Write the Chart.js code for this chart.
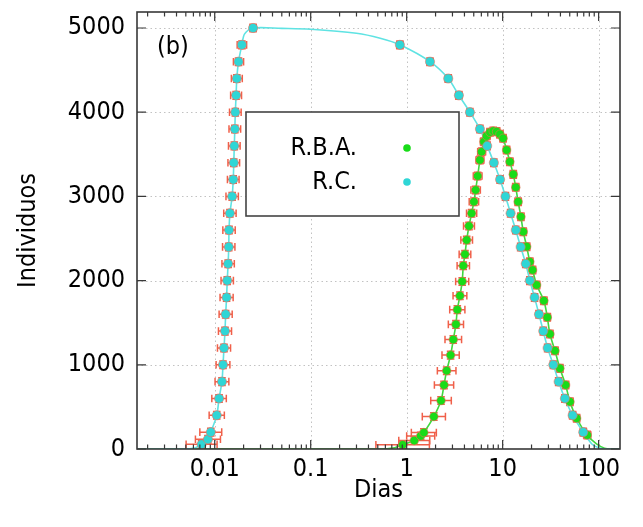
<!DOCTYPE html>
<html><head><meta charset="utf-8">
<script src="https://cdn.jsdelivr.net/npm/chart.js@4.4.1/dist/chart.umd.min.js"></script>
<style>html,body{margin:0;padding:0;background:#fff}#c{display:block}</style>
</head><body>
<canvas id="c" width="643" height="527"></canvas>
<script>
// ---------- data ----------
const xTickValues = [0.01, 0.1, 1, 10, 100];
const xTickLabels = ['0.01', '0.1', '1', '10', '100'];
const yTickValues = [0, 1000, 2000, 3000, 4000, 5000];
const seriesNames = ['R.B.A.', 'R.C.'];
const panelLabel = '(b)';
const xTitle = 'Dias';
const yTitle = 'Individuos';

// R.C. (cyan) points
const rcX = [0.0073, 0.0085, 0.0091, 0.0105, 0.0111, 0.0119, 0.0122, 0.0125, 0.0128, 0.0130, 0.0133, 0.0135, 0.0138, 0.0140, 0.0141, 0.0144, 0.0152, 0.0156, 0.0158, 0.0160, 0.0162, 0.0164, 0.0167, 0.0170, 0.0177, 0.0192, 0.0251,
  0.85, 1.75, 2.71, 3.5, 4.56, 5.8, 6.9, 8.1, 9.4, 10.7, 12.1, 13.7, 15.4, 17.4, 19.2, 21.5, 23.9, 26.5, 29.4, 33.7, 38.3, 44.5, 53.6, 69.2];
const rcY = [55, 115, 200, 400, 600, 800, 1000, 1200, 1400, 1600, 1800, 2000, 2200, 2400, 2600, 2800, 3000, 3200, 3400, 3600, 3800, 4000, 4200, 4400, 4600, 4800, 5000,
  4800, 4600, 4400, 4200, 4000, 3800, 3600, 3400, 3200, 3000, 2800, 2600, 2400, 2200, 2000, 1800, 1600, 1400, 1200, 1000, 800, 600, 400, 200];
// relative horizontal error (fraction of x)
const rcErr = [0.45, 0.35, 0.3, 0.2, 0.19, 0.18, 0.18, 0.17, 0.17, 0.17, 0.17, 0.16, 0.16, 0.16, 0.16, 0.16, 0.16, 0.15, 0.15, 0.15, 0.15, 0.15, 0.14, 0.14, 0.13, 0.12, 0.08,
  0.08, 0.08, 0.08, 0.08, 0.07, 0.07, 0.07, 0.07, 0.07, 0.07, 0.07, 0.07, 0.07, 0.07, 0.07, 0.07, 0.07, 0.07, 0.07, 0.07, 0.07, 0.07, 0.08, 0.08];

// R.B.A. (green) points
const rbaX = [0.908, 1.20, 1.40, 1.51, 1.92, 2.28, 2.45, 2.61, 2.87, 3.06, 3.26, 3.37, 3.59, 3.79, 3.89, 4.05, 4.22, 4.46, 4.75, 5.02, 5.23, 5.49, 5.80, 6.04, 6.39, 6.81, 7.38, 7.98, 8.66, 9.37,
  10.1, 11.0, 11.9, 12.9, 13.7, 14.5, 15.5, 16.4, 17.8, 19.2, 20.5, 22.6, 26.9, 29.2, 31.1, 35.1, 39.5, 45.3, 50.3, 59.0, 76.1];
const rbaY = [50, 100, 155, 195, 385, 575, 760, 930, 1115, 1300, 1480, 1655, 1820, 1990, 2177, 2312, 2482, 2648, 2799, 2937, 3076, 3242, 3432, 3531, 3650, 3717, 3761, 3777, 3769, 3738,
  3690, 3551, 3412, 3262, 3108, 2937, 2759, 2581, 2403, 2224, 2126, 1948, 1761, 1564, 1366, 1167, 958, 760, 562, 365, 166];
const rbaErr = [0.9, 0.45, 0.4, 0.35, 0.32, 0.28, 0.26, 0.25, 0.23, 0.22, 0.2, 0.2, 0.18, 0.17, 0.16, 0.15, 0.15, 0.14, 0.13, 0.12, 0.12, 0.11, 0.1, 0.1, 0.09, 0.09, 0.08, 0.08, 0.08, 0.08,
  0.08, 0.08, 0.08, 0.08, 0.08, 0.08, 0.08, 0.08, 0.08, 0.08, 0.08, 0.08, 0.08, 0.08, 0.08, 0.08, 0.08, 0.08, 0.08, 0.08, 0.09];
const yErrHalf = 45; // vertical error half-size (individuals)

// curve pieces beyond / between the points
const rcLineHeadX = [0.00155, 0.0045, 0.0062];
const rcLineHeadY = [0, 0, 12];
const rcLineBendX = [0.0205];
const rcLineBendY = [4930];
const rcLineMidX = [0.05, 0.1, 0.3, 0.53];
const rcLineMidY = [4995, 4985, 4937, 4878];
const rcLineTailX = [85, 100, 115, 167];
const rcLineTailY = [60, 15, 0, 0];
const rbaLineHeadX = [0.00155, 0.5, 0.75];
const rbaLineHeadY = [0, 0, 15];
const rbaLineTailX = [95, 115, 140, 167];
const rbaLineTailY = [60, 10, 0, 0];

// ---------- build ----------
const pts = (xs, ys) => xs.map((v, i) => ({x: v, y: ys[i]}));
const rcLineX = [...rcLineHeadX, ...rcX.slice(0, 26), ...rcLineBendX, rcX[26], ...rcLineMidX, ...rcX.slice(27), ...rcLineTailX];
const rcLineY = [...rcLineHeadY, ...rcY.slice(0, 26), ...rcLineBendY, rcY[26], ...rcLineMidY, ...rcY.slice(27), ...rcLineTailY];
const rbaLineX = [...rbaLineHeadX, ...rbaX, ...rbaLineTailX];
const rbaLineY = [...rbaLineHeadY, ...rbaY, ...rbaLineTailY];

const FONT = '"DejaVu Sans Condensed","DejaVu Sans",sans-serif';
const FS = 25;
const CYAN = '#2fd6d6', GREEN = '#18dc18', RED = '#f0604a';
const HALO = 'rgba(240,110,90,0.55)';

const decor = {
  id: 'decor',
  beforeDatasetsDraw(chart) {
    const {ctx, chartArea: a, scales: {x, y}} = chart;
    ctx.save();
    ctx.beginPath(); ctx.rect(a.left, a.top, a.width, a.height); ctx.clip();
    // dotted grid
    ctx.strokeStyle = '#c2c2c2'; ctx.lineWidth = 1; ctx.setLineDash([1.5, 3]);
    xTickValues.forEach(v => {
      const p = Math.round(x.getPixelForValue(v)) + 0.5;
      ctx.beginPath(); ctx.moveTo(p, a.top); ctx.lineTo(p, a.bottom); ctx.stroke();
    });
    yTickValues.forEach(v => {
      if (v === 0) return;
      const p = Math.round(y.getPixelForValue(v)) + 0.5;
      ctx.beginPath(); ctx.moveTo(a.left, p); ctx.lineTo(a.right, p); ctx.stroke();
    });
    ctx.setLineDash([]);
    // error bars
    ctx.strokeStyle = RED; ctx.lineWidth = 1.5;
    const cap = 3.8;
    const bars = (xs, ys, errs) => {
      xs.forEach((xv, i) => {
        const e = errs[i] ?? 0.08;
        const px = x.getPixelForValue(xv), py = y.getPixelForValue(ys[i]);
        const lo = x.getPixelForValue(xv / (1 + e)), hi = x.getPixelForValue(xv * (1 + e));
        const yt = y.getPixelForValue(ys[i] + yErrHalf), yb = y.getPixelForValue(ys[i] - yErrHalf);
        ctx.beginPath();
        ctx.moveTo(lo, py); ctx.lineTo(hi, py);
        ctx.moveTo(lo, py - cap); ctx.lineTo(lo, py + cap);
        ctx.moveTo(hi, py - cap); ctx.lineTo(hi, py + cap);
        ctx.moveTo(px, yt); ctx.lineTo(px, yb);
        ctx.moveTo(px - cap, yt); ctx.lineTo(px + cap, yt);
        ctx.moveTo(px - cap, yb); ctx.lineTo(px + cap, yb);
        ctx.stroke();
      });
    };
    bars(rbaX, rbaY, rbaErr);
    bars(rcX, rcY, rcErr);
    ctx.restore();
  },
  afterDatasetsDraw(chart) {
    const {ctx, chartArea: a, scales: {x, y}} = chart;
    ctx.save();
    // frame
    ctx.strokeStyle = '#383838'; ctx.lineWidth = 1.6;
    ctx.strokeRect(a.left, a.top, a.width, a.height);
    // inward ticks
    ctx.lineWidth = 1.2;
    ctx.beginPath();
    xTickValues.forEach(v => {
      const p = x.getPixelForValue(v);
      ctx.moveTo(p, a.bottom); ctx.lineTo(p, a.bottom - 9);
      ctx.moveTo(p, a.top); ctx.lineTo(p, a.top + 9);
    });
    for (let n = -3; n <= 2; n++) {
      for (let k = 2; k <= 9; k++) {
        const v = k * Math.pow(10, n);
        if (v <= x.min || v >= x.max) continue;
        const p = x.getPixelForValue(v);
        ctx.moveTo(p, a.bottom); ctx.lineTo(p, a.bottom - 4.5);
        ctx.moveTo(p, a.top); ctx.lineTo(p, a.top + 4.5);
      }
    }
    yTickValues.forEach(v => {
      const p = y.getPixelForValue(v);
      ctx.moveTo(a.left, p); ctx.lineTo(a.left + 9, p);
      ctx.moveTo(a.right, p); ctx.lineTo(a.right - 9, p);
    });
    ctx.stroke();
    // panel label
    ctx.fillStyle = '#000';
    ctx.font = FS + 'px ' + FONT;
    ctx.textBaseline = 'middle'; ctx.textAlign = 'left';
    ctx.fillText(panelLabel, a.left + 20, a.top + 35);
    // legend box
    const bx = a.left + 109, by = a.top + 100, bw = 213, bh = 104;
    ctx.fillStyle = '#fff'; ctx.fillRect(bx, by, bw, bh);
    ctx.strokeStyle = '#444'; ctx.lineWidth = 1.6; ctx.strokeRect(bx, by, bw, bh);
    const colors = [GREEN, CYAN];
    seriesNames.forEach((s, i) => {
      const ty = by + 36 + i * 34;
      ctx.fillStyle = '#000'; ctx.textAlign = 'right';
      ctx.fillText(s, bx + 111, ty);
      ctx.fillStyle = colors[i];
      ctx.beginPath(); ctx.arc(bx + 161, ty, 3.8, 0, Math.PI * 2); ctx.fill();
    });
    ctx.restore();
  }
};

new Chart(document.getElementById('c'), {
  type: 'scatter',
  data: {
    datasets: [
      {label: seriesNames[1], data: pts(rcX, rcY), showLine: false, pointRadius: 4.6, pointBackgroundColor: CYAN, pointBorderWidth: 1, pointBorderColor: HALO},
      {label: seriesNames[0], data: pts(rbaX, rbaY), showLine: false, pointRadius: 4.3, pointBackgroundColor: GREEN, pointBorderWidth: 1, pointBorderColor: HALO},
      {label: 'rc-curve', data: pts(rcLineX, rcLineY), showLine: true, pointRadius: 0, borderColor: '#5fe3e3', borderWidth: 1.6, tension: 0.3},
      {label: 'rba-curve', data: pts(rbaLineX, rbaLineY), showLine: true, pointRadius: 0, borderColor: '#3fd83f', borderWidth: 1.6, tension: 0.3}
    ]
  },
  options: {
    responsive: false,
    devicePixelRatio: 1,
    animation: false,
    events: [],
    layout: {padding: {top: 12, right: 23, left: 0, bottom: 0}},
    plugins: {legend: {display: false}, tooltip: {enabled: false}},
    scales: {
      x: {
        type: 'logarithmic', min: 0.00155, max: 167,
        grid: {display: false, drawTicks: false}, border: {display: false},
        afterBuildTicks: s => { s.ticks = xTickValues.map(v => ({value: v})); },
        afterFit: s => { s.height = 78; s.paddingLeft = 0; s.paddingRight = 0; },
        ticks: {autoSkip: false, maxRotation: 0, padding: 5, color: '#000', font: {family: FONT, size: FS},
          callback: v => { const i = xTickValues.indexOf(v); return i >= 0 ? xTickLabels[i] : ''; }},
        title: {display: true, text: xTitle, color: '#000', font: {family: FONT, size: FS}, padding: {top: 0, bottom: 22}}
      },
      y: {
        type: 'linear', min: 0, max: 5190,
        grid: {display: false, drawTicks: false}, border: {display: false},
        afterBuildTicks: s => { s.ticks = yTickValues.map(v => ({value: v})); },
        afterFit: s => { s.width = 137; s.paddingTop = 0; s.paddingBottom = 0; },
        ticks: {padding: 12, color: '#000', font: {family: FONT, size: FS}, callback: v => String(v)},
        title: {display: true, text: yTitle, color: '#000', font: {family: FONT, size: FS}, padding: {top: 13, bottom: 13}}
      }
    }
  },
  plugins: [decor]
});
</script>
</body></html>
